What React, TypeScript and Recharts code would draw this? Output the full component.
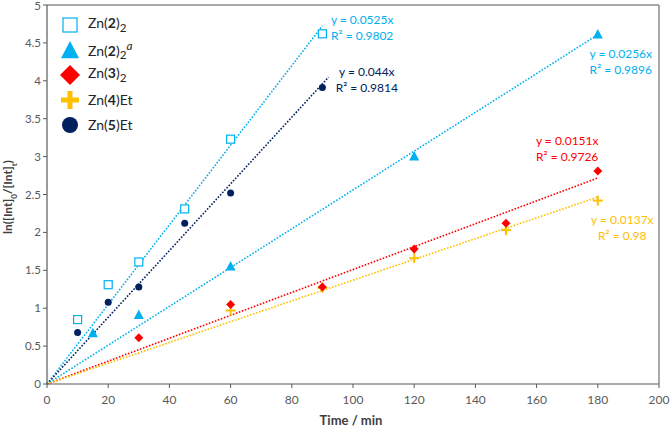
import React from "react";
import {
	ScatterChart,
	Scatter,
	XAxis,
	YAxis,
	ReferenceLine,
	ReferenceDot,
} from "recharts";

const BLUE = "#00B0F0";
const RED = "#FF0000";
const GOLD = "#FFC000";
const NAVY = "#002060";
const FONT = "Lato, 'Open Sans', sans-serif";

// ln([Int]0/[Int]t) vs time (min)
const zn2 = [
	{ x: 10, y: 0.85 },
	{ x: 20, y: 1.31 },
	{ x: 30, y: 1.61 },
	{ x: 45, y: 2.31 },
	{ x: 60, y: 3.23 },
	{ x: 90, y: 4.62 },
];
const zn2a = [
	{ x: 15, y: 0.67 },
	{ x: 30, y: 0.91 },
	{ x: 60, y: 1.55 },
	{ x: 120, y: 3.0 },
	{ x: 180, y: 4.61 },
];
const zn3 = [
	{ x: 30, y: 0.61 },
	{ x: 60, y: 1.05 },
	{ x: 90, y: 1.28 },
	{ x: 120, y: 1.78 },
	{ x: 150, y: 2.12 },
	{ x: 180, y: 2.81 },
];
const zn4 = [
	{ x: 60, y: 0.97 },
	{ x: 90, y: 1.27 },
	{ x: 120, y: 1.66 },
	{ x: 150, y: 2.03 },
	{ x: 180, y: 2.42 },
];
const zn5 = [
	{ x: 10, y: 0.68 },
	{ x: 20, y: 1.08 },
	{ x: 30, y: 1.28 },
	{ x: 45, y: 2.12 },
	{ x: 60, y: 2.52 },
	{ x: 90, y: 3.91 },
];

// linear fits through origin: slope, x end, label anchor
const fits = [
	{ slope: 0.0525, end: 90, color: BLUE, eq: "y = 0.0525x", r2: "0.9802", lx: 103, ly: 4.8 },
	{ slope: 0.044, end: 92, color: NAVY, eq: "y = 0.044x", r2: "0.9814", lx: 104.5, ly: 4.12 },
	{ slope: 0.0256, end: 181, color: BLUE, eq: "y = 0.0256x", r2: "0.9896", lx: 187.5, ly: 4.35 },
	{ slope: 0.0151, end: 180, color: RED, eq: "y = 0.0151x", r2: "0.9726", lx: 170, ly: 3.2 },
	{ slope: 0.0137, end: 180, color: GOLD, eq: "y = 0.0137x", r2: "0.98", lx: 188, ly: 2.16 },
];

const xTicks = [0, 20, 40, 60, 80, 100, 120, 140, 160, 180, 200];
const yTicks = [0, 0.5, 1, 1.5, 2, 2.5, 3, 3.5, 4, 4.5, 5];

const Square = ({ cx, cy, s = 8 }: any) => (
	<rect x={cx - s / 2} y={cy - s / 2} width={s} height={s} fill="#fff" stroke={BLUE} strokeWidth={1.2} />
);
const Triangle = ({ cx, cy, s = 10 }: any) => (
	<polygon
		points={`${cx},${cy - s * 0.55} ${cx - s / 2},${cy + s * 0.4} ${cx + s / 2},${cy + s * 0.4}`}
		fill={BLUE}
	/>
);
const Diamond = ({ cx, cy, s = 9 }: any) => (
	<polygon
		points={`${cx},${cy - s / 2} ${cx + s / 2},${cy} ${cx},${cy + s / 2} ${cx - s / 2},${cy}`}
		fill={RED}
	/>
);
const Plus = ({ cx, cy, s = 10, w = 2 }: any) => (
	<g fill={GOLD}>
		<rect x={cx - s / 2} y={cy - w / 2} width={s} height={w} />
		<rect x={cx - w / 2} y={cy - s / 2} width={w} height={s} />
	</g>
);
const Dot = ({ cx, cy, s = 7 }: any) => <circle cx={cx} cy={cy} r={s / 2} fill={NAVY} />;

const LegendBox = () => {
	const items = [
		{ mark: <Square cx={10} cy={10} s={14} />, label: <>Zn(<b>2</b>)<sub>2</sub></> },
		{ mark: <Triangle cx={10} cy={11} s={18} />, label: <>Zn(<b>2</b>)<sub>2</sub><sup><i>a</i></sup></> },
		{ mark: <Diamond cx={10} cy={10} s={20} />, label: <>Zn(<b>3</b>)<sub>2</sub></> },
		{ mark: <Plus cx={10} cy={10} s={18} w={5} />, label: <>Zn(<b>4</b>)Et</> },
		{ mark: <Dot cx={10} cy={10} s={16} />, label: <>Zn(<b>5</b>)Et</> },
	];
	return (
		<div style={{ position: "absolute", left: 60, top: 12, fontFamily: FONT, fontSize: 14, color: "#262626" }}>
			{items.map((it, i) => (
				<div key={i} style={{ display: "flex", alignItems: "center", height: 25 }}>
					<svg width={20} height={20} style={{ marginRight: 8, overflow: "visible" }}>
						{it.mark}
					</svg>
					<span style={{ lineHeight: "14px" }}>{it.label}</span>
				</div>
			))}
		</div>
	);
};

const FitLabel = ({ viewBox, f }: any) => {
	const { x, y } = viewBox;
	return (
		<text x={x} y={y} fill={f.color} fontFamily={FONT} fontSize={12} textAnchor="middle">
			<tspan x={x} dy={4}>{f.eq}</tspan>
			<tspan x={x} dy={16}>R² = {f.r2}</tspan>
		</text>
	);
};

const yLabel = () => (
	<text
		transform="translate(12,197) rotate(-90)"
		textAnchor="middle"
		fontFamily={FONT}
		fontSize={12}
		fontWeight="bold"
		fill="#404040"
	>
		ln([Int]<tspan baselineShift="sub" fontSize={8}>0</tspan>/[Int]
		<tspan baselineShift="sub" fontSize={8}>t</tspan>)
	</text>
);

const xLabel = () => (
	<text x={351} y={425} textAnchor="middle" fontFamily={FONT} fontSize={13} fontWeight="bold" fill="#404040">
		Time / min
	</text>
);

export default function App() {
	return (
		<div style={{ position: "relative", width: 670, height: 430, background: "#fff" }}>
			<style>{`html,body{margin:0;padding:0;overflow:hidden}`}</style>
			<ScatterChart width={670} height={430} margin={{ top: 5, right: 11, bottom: 16, left: 0 }}>
				<XAxis
					type="number"
					dataKey="x"
					domain={[0, 200]}
					ticks={xTicks}
					height={30}
					tick={{ fill: "#595959", fontSize: 12, fontFamily: FONT }}
					tickLine={{ stroke: "#595959" }}
					tickSize={4}
					tickMargin={7}
					axisLine={{ stroke: "#595959", strokeWidth: 1.2 }}
					label={{ content: xLabel }}
				/>
				<YAxis
					type="number"
					dataKey="y"
					domain={[0, 5]}
					ticks={yTicks}
					width={47}
					tick={{ fill: "#595959", fontSize: 11.5, fontFamily: FONT }}
					tickLine={{ stroke: "#595959" }}
					tickSize={4}
					axisLine={{ stroke: "#595959", strokeWidth: 1.2 }}
					label={{ content: yLabel }}
				/>
				<ReferenceLine y={5} stroke="#8c8c8c" strokeWidth={1.5} ifOverflow="visible" />
				<ReferenceLine x={200} stroke="#8c8c8c" strokeWidth={1.5} ifOverflow="visible" />
				{fits.map((f, i) => (
					<ReferenceLine
						key={i}
						segment={[{ x: 0, y: 0 }, { x: f.end, y: f.slope * f.end }]}
						stroke={f.color}
						strokeWidth={1.6}
						strokeDasharray="1.6 1.6"
						ifOverflow="visible"
					/>
				))}
				<Scatter data={zn4} shape={(p: any) => <Plus {...p} />} isAnimationActive={false} />
				<Scatter data={zn3} shape={(p: any) => <Diamond {...p} />} isAnimationActive={false} />
				<Scatter data={zn2a} shape={(p: any) => <Triangle {...p} />} isAnimationActive={false} />
				<Scatter data={zn5} shape={(p: any) => <Dot {...p} />} isAnimationActive={false} />
				<Scatter data={zn2} shape={(p: any) => <Square {...p} />} isAnimationActive={false} />
				{fits.map((f, i) => (
					<ReferenceDot
						key={"l" + i}
						x={f.lx}
						y={f.ly}
						r={0}
						stroke="none"
						fill="none"
						ifOverflow="visible"
						label={{ content: (props: any) => <FitLabel {...props} f={f} /> }}
					/>
				))}
			</ScatterChart>
			<LegendBox />
		</div>
	);
}
